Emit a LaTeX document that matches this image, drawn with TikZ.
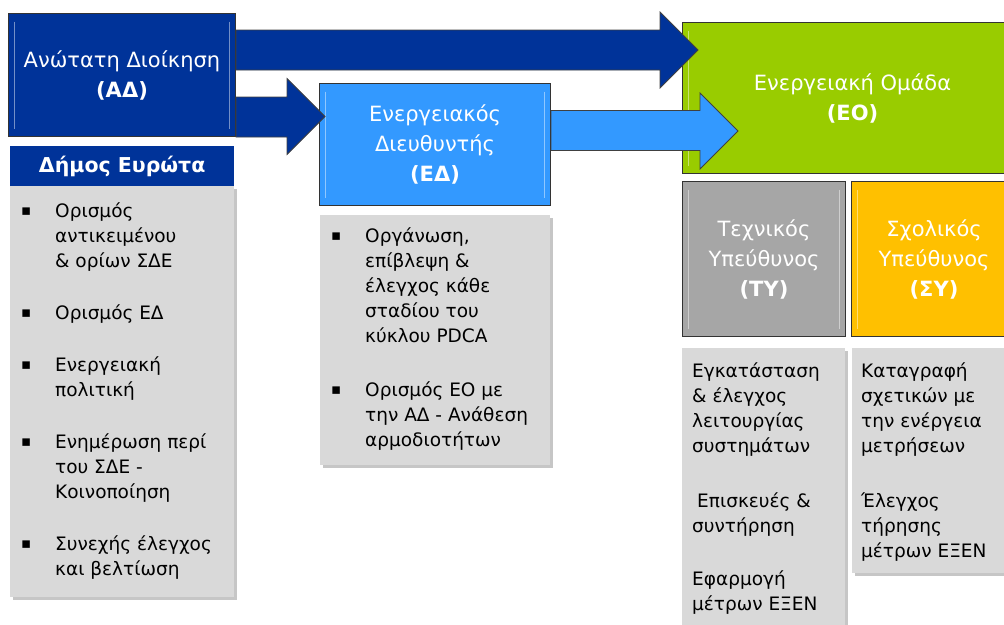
\documentclass[tikz,border=0pt]{standalone}
\usepackage{fontspec}
\setmainfont{DejaVu Sans}
\usetikzlibrary{calc,positioning,shadows}
\definecolor{adblue}{RGB}{0,51,153}
\definecolor{edblue}{RGB}{51,153,255}
\definecolor{eogreen}{RGB}{153,204,0}
\definecolor{tygray}{RGB}{166,166,166}
\definecolor{syorange}{RGB}{255,192,0}
\definecolor{notegray}{RGB}{217,217,217}
\newcommand{\sqbul}{\makebox[34pt][l]{\fontsize{15}{15}\selectfont\raisebox{1.5pt}{▪}}}
\tikzset{
  bevel/.style={path picture={
    \draw[white, opacity=.45, line width=1.5pt]
      ([xshift=6pt,yshift=-8pt]path picture bounding box.north west) -- ([xshift=6pt,yshift=8pt]path picture bounding box.south west)
      ([xshift=-6pt,yshift=-8pt]path picture bounding box.north east) -- ([xshift=-6pt,yshift=8pt]path picture bounding box.south east);}},
  rolebox/.style={draw=black!80, line width=1pt, text=white, align=center, inner sep=0pt,
    anchor=north west, font=\fontsize{21}{30}\selectfont, bevel},
  header/.style={fill=adblue, text=white, inner sep=0pt, anchor=north west,
    font=\fontsize{20.5}{24}\selectfont\bfseries},
  notebox/.style={fill=notegray, inner sep=0pt, anchor=north west,
    drop shadow={shadow xshift=2.5pt, shadow yshift=-2.5pt, opacity=.45}},
  notetext/.style={inner sep=0pt, anchor=north west, align=left, font=\fontsize{18.5}{25}\selectfont},
  blockarrow/.style={draw=black!75, line width=.8pt, to path={
    let \p1=(\tikztostart), \p2=(\tikztotarget) in
    (\x1,\y1+20pt) -- (\x2-38pt,\y1+20pt) -- (\x2-38pt,\y2+38pt) -- (\x2,\y2)
    -- (\x2-38pt,\y2-38pt) -- (\x2-38pt,\y1-20pt) -- (\x1,\y1-20pt) -- cycle}}
}

\begin{document}
\begin{tikzpicture}[x=1pt, y=-1pt]
\useasboundingbox (0,0) rectangle (1004,624);

% Energy team and its two officers
\node[rolebox, fill=eogreen, minimum width=340pt, minimum height=151pt] (eo) at (682,22)
  {Ενεργειακή Ομάδα\\\textbf{(ΕΟ)}};
\node[rolebox, fill=tygray, minimum width=163pt, minimum height=155pt] (ty) at (682,181)
  {Τεχνικός\\Υπεύθυνος\\\textbf{(ΤΥ)}};
\node[rolebox, fill=syorange, minimum width=165pt, minimum height=155pt] (sy) at (851,181)
  {Σχολικός\\Υπεύθυνος\\\textbf{(ΣΥ)}};

% Top management and energy manager
\node[rolebox, fill=adblue, minimum width=227pt, minimum height=123pt] (ad) at (8,13)
  {Ανώτατη Διοίκηση\\\textbf{(ΑΔ)}};
\node[header, minimum width=224pt, minimum height=40pt] (dimos) at (10,146) {Δήμος Ευρώτα};
\node[rolebox, fill=edblue, minimum width=231pt, minimum height=122pt] (ed) at (319,83)
  {Ενεργειακός\\Διευθυντής\\\textbf{(ΕΔ)}};

% Task lists
\node[notebox, minimum width=224pt, minimum height=411pt] (adnote) at (10,186) {};
\node[notetext] (adtext) at (21,199.5) {%
  \begin{tabular}{@{}l@{}l@{}}
  \sqbul & Ορισμός\\
         & αντικειμένου\\
         & \& ορίων ΣΔΕ\\[27pt]
  \sqbul & Ορισμός ΕΔ\\[27pt]
  \sqbul & Ενεργειακή\\
         & πολιτική\\[27pt]
  \sqbul & Ενημέρωση περί\\
         & του ΣΔΕ -\\
         & Κοινοποίηση\\[27pt]
  \sqbul & Συνεχής έλεγχος\\
         & και βελτίωση
  \end{tabular}};

\node[notebox, minimum width=230pt, minimum height=250pt] (ednote) at (320,215) {};
\node[notetext] (edtext) at (331,224.5) {%
  \begin{tabular}{@{}l@{}l@{}}
  \sqbul & Οργάνωση,\\
         & επίβλεψη \&\\
         & έλεγχος κάθε\\
         & σταδίου του\\
         & κύκλου PDCA\\[29pt]
  \sqbul & Ορισμός ΕΟ με\\
         & την ΑΔ - Ανάθεση\\
         & αρμοδιοτήτων
  \end{tabular}};

\node[notebox, minimum width=163pt, minimum height=290pt] (tynote) at (682,348) {};
\node[notetext] (tytext) at (692,360) {%
  \begin{tabular}{@{}l@{}}
  Εγκατάσταση\\
  \& έλεγχος\\
  λειτουργίας\\
  συστημάτων\\[30pt]
  \hspace{5pt}Επισκευές \&\\
  συντήρηση\\[28pt]
  Εφαρμογή\\
  μέτρων ΕΞΕΝ
  \end{tabular}};

\node[notebox, minimum width=165pt, minimum height=225pt] (synote) at (852,348) {};
\node[notetext] (sytext) at (861,360) {%
  \begin{tabular}{@{}l@{}}
  Καταγραφή\\
  σχετικών με\\
  την ενέργεια\\
  μετρήσεων\\[30pt]
  Έλεγχος\\
  τήρησης\\
  μέτρων ΕΞΕΝ
  \end{tabular}};

% Block arrows
\coordinate (ad-hi) at ($(ad.north east)+(0,37)$);
\coordinate (eo-hi) at ($(eo.north west)+(16,28)$);
\coordinate (ad-lo) at ($(ad.south east)+(0,-20)$);
\coordinate (ed-in) at ($(ed.west)+(6,-28)$);
\coordinate (ed-out) at ($(ed.east)+(0,-14)$);
\coordinate (eo-in) at ($(eo.west)+(56,33)$);
\draw[blockarrow, fill=adblue] (ad-hi) to (eo-hi);
\draw[blockarrow, fill=adblue] (ad-lo) to (ed-in);
\draw[blockarrow, fill=edblue] (ed-out) to (eo-in);
\end{tikzpicture}
\end{document}
